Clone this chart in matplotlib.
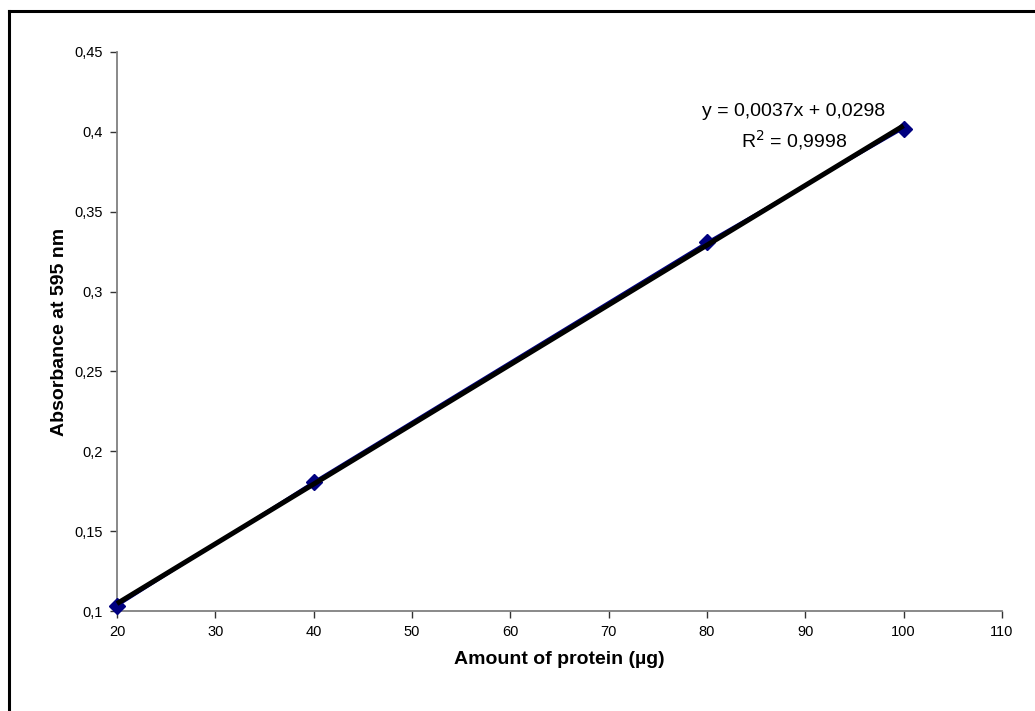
import numpy as np
import matplotlib.pyplot as plt
from matplotlib.lines import Line2D

# protein standard curve (Bradford)
protein_ug = [20, 40, 80, 100]
absorbance = [0.103, 0.181, 0.331, 0.402]

eq_label = "y = 0,0037x + 0,0298"
r2_label = "R$^2$ = 0,9998"

x_ticks = [20, 30, 40, 50, 60, 70, 80, 90, 100, 110]
y_ticks = [0.1, 0.15, 0.2, 0.25, 0.3, 0.35, 0.4, 0.45]
y_ticklabels = ["0,1", "0,15", "0,2", "0,25", "0,3", "0,35", "0,4", "0,45"]

plt.rcParams['font.family'] = ['Liberation Sans', 'DejaVu Sans']

fig = plt.figure(figsize=(10.35, 7.11), dpi=100)
ax = fig.add_axes([0.113, 0.1406, 0.855, 0.7863])

# outer chart border (only top and left visible, rest cropped)
fig.add_artist(Line2D([0.0087, 0.0087], [0, 0.985], transform=fig.transFigure,
                      color="black", lw=2.2))
fig.add_artist(Line2D([0.0087, 1.0], [0.985, 0.985], transform=fig.transFigure,
                      color="black", lw=2.2))

ax.plot(protein_ug, absorbance, color="#000080", lw=1.5, marker="D",
        markersize=8.5, markerfacecolor="#000080", markeredgecolor="#000080",
        zorder=3, clip_on=False)

# linear trendline (least squares, like Excel)
slope, intercept = np.polyfit(protein_ug, absorbance, 1)
x_fit = np.array([protein_ug[0], protein_ug[-1]])
ax.plot(x_fit, slope * x_fit + intercept, color="black", lw=3.6, zorder=4,
        solid_capstyle="butt", clip_on=False)

ax.set_xlim(20, 110)
ax.set_ylim(0.1, 0.45)
ax.set_xticks(x_ticks)
ax.set_xticklabels([str(v) for v in x_ticks])
ax.set_yticks(y_ticks)
ax.set_yticklabels(y_ticklabels)

for side in ("top", "right"):
    ax.spines[side].set_visible(False)
for side in ("left", "bottom"):
    ax.spines[side].set_color("#808080")
    ax.spines[side].set_linewidth(1.3)

ax.tick_params(axis="both", direction="out", length=5, width=1, color="#333333",
               labelsize=10.5, pad=5)

ax.set_xlabel("Amount of protein (µg)", fontsize=14, fontweight="bold", labelpad=9)
ax.set_ylabel("Absorbance at 595 nm", fontsize=14, fontweight="bold", labelpad=5)

ax.text(0.7671, 0.8425, eq_label, transform=fig.transFigure,
        ha="center", va="center", fontsize=14)
ax.text(0.7671, 0.803, r2_label, transform=fig.transFigure,
        ha="center", va="center", fontsize=14)

fig.savefig("out.png", dpi=100, facecolor="white")
